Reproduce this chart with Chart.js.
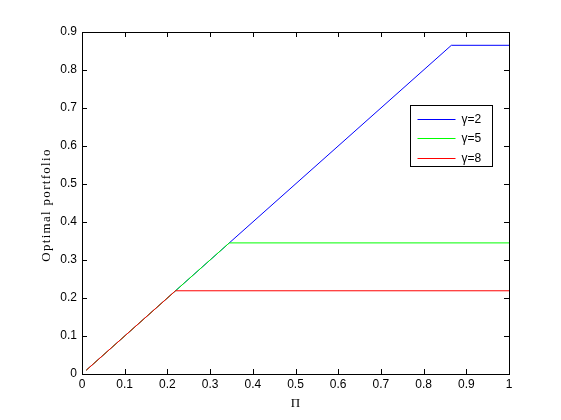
<!DOCTYPE html>
<html>
<head>
<meta charset="utf-8">
<script src="https://cdn.jsdelivr.net/npm/chart.js@4/dist/chart.umd.min.js"></script>
<style>
  html, body { margin: 0; padding: 0; background: #fff; }
  canvas { display: block; }
</style>
</head>
<body>
<canvas id="chart" width="561" height="420"></canvas>
<script>
// data
const seriesLabels = ['γ=2', 'γ=5', 'γ=8'];
const seriesColors = ['#0000ff', '#00ff00', '#ff0000'];
const gamma2X = [0.01, 0.865, 1];
const gamma2Y = [0.01, 0.865, 0.865];
const gamma5X = [0.01, 0.345, 1];
const gamma5Y = [0.01, 0.345, 0.345];
const gamma8X = [0.01, 0.219, 1];
const gamma8Y = [0.01, 0.219, 0.219];
const xTicks = [0, 0.1, 0.2, 0.3, 0.4, 0.5, 0.6, 0.7, 0.8, 0.9, 1];
const yTicks = [0, 0.1, 0.2, 0.3, 0.4, 0.5, 0.6, 0.7, 0.8, 0.9];
const yTitle = 'Optimal portfolio';

function toPoints(xs, ys) {
    return xs.map((x, i) => ({ x: x, y: ys[i] }));
}

const seriesData = [
    toPoints(gamma2X, gamma2Y),
    toPoints(gamma5X, gamma5Y),
    toPoints(gamma8X, gamma8Y)
];

// matlab style box, inward ticks, y label and legend
const matlabAxes = {
    id: 'matlabAxes',
    afterDraw(chart) {
        const ctx = chart.ctx;
        const a = chart.chartArea;
        const xs = chart.scales.x;
        const ys = chart.scales.y;
        const len = 5;
        ctx.save();
        ctx.strokeStyle = '#000';
        ctx.lineWidth = 1;
        ctx.beginPath();
        xTicks.forEach(v => {
            const px = Math.round(xs.getPixelForValue(v)) + 0.5;
            ctx.moveTo(px, a.bottom); ctx.lineTo(px, a.bottom - len);
            ctx.moveTo(px, a.top); ctx.lineTo(px, a.top + len);
        });
        yTicks.forEach(v => {
            const py = Math.round(ys.getPixelForValue(v)) + 0.5;
            ctx.moveTo(a.left, py); ctx.lineTo(a.left + len, py);
            ctx.moveTo(a.right, py); ctx.lineTo(a.right - len, py);
        });
        ctx.stroke();
        ctx.strokeRect(Math.round(a.left) + 0.5, Math.round(a.top) + 0.5,
            Math.round(a.right - a.left), Math.round(a.bottom - a.top));

        // y label, wide spaced like the matlab screen font
        ctx.save();
        ctx.translate(47, (a.top + a.bottom) / 2 + 2);
        ctx.rotate(-Math.PI / 2);
        ctx.font = '13px "Liberation Serif", "Times New Roman", serif';
        ctx.letterSpacing = '1.3px';
        ctx.textAlign = 'center';
        ctx.textBaseline = 'middle';
        ctx.fillStyle = '#000';
        ctx.fillText(yTitle, 0, 0);
        ctx.restore();

        // legend
        const bx = 410.5, by = 105.5, bw = 82, bh = 61;
        ctx.fillStyle = '#fff';
        ctx.fillRect(bx, by, bw, bh);
        ctx.strokeRect(bx, by, bw, bh);
        ctx.font = '12px "Liberation Sans", Arial, sans-serif';
        ctx.textBaseline = 'middle';
        ctx.textAlign = 'left';
        chart.data.datasets.forEach((ds, i) => {
            const ry = Math.round(by + 13 + i * 19.5) + 0.5;
            ctx.strokeStyle = ds.borderColor;
            ctx.beginPath();
            ctx.moveTo(bx + 7, ry);
            ctx.lineTo(bx + 45, ry);
            ctx.stroke();
            ctx.fillStyle = '#000';
            ctx.fillText(ds.label, bx + 51, ry);
        });
        ctx.restore();
    }
};

new Chart(document.getElementById('chart').getContext('2d'), {
    type: 'line',
    data: {
        datasets: seriesData.map((pts, i) => ({
            label: seriesLabels[i],
            data: pts,
            borderColor: seriesColors[i],
            backgroundColor: seriesColors[i],
            borderWidth: 1,
            pointRadius: 0,
            tension: 0,
            fill: false,
            order: seriesLabels.length - i
        }))
    },
    options: {
        responsive: false,
        animation: false,
        layout: { padding: { left: 0, right: 52, top: 32, bottom: 0 } },
        plugins: {
            legend: { display: false },
            tooltip: { enabled: false }
        },
        scales: {
            x: {
                type: 'linear',
                min: 0,
                max: 1,
                afterFit: s => { s.height = 46; },
                afterBuildTicks: s => { s.ticks = xTicks.map(v => ({ value: v })); },
                grid: { display: false, drawTicks: false },
                border: { display: false },
                ticks: {
                    color: '#000',
                    padding: 3,
                    maxRotation: 0,
                    font: { family: '"Liberation Sans", Arial, sans-serif', size: 12 },
                    callback: v => String(Number(v.toFixed(1)))
                },
                title: {
                    display: true,
                    text: 'Π',
                    color: '#000',
                    padding: { top: 0, bottom: 9 },
                    font: { family: '"Liberation Serif", "Times New Roman", serif', size: 13, lineHeight: 1.2 }
                }
            },
            y: {
                type: 'linear',
                min: 0,
                max: 0.9,
                afterFit: s => { s.width = 82; },
                afterBuildTicks: s => { s.ticks = yTicks.map(v => ({ value: v })); },
                grid: { display: false, drawTicks: false },
                border: { display: false },
                ticks: {
                    color: '#000',
                    padding: 5,
                    font: { family: '"Liberation Sans", Arial, sans-serif', size: 12 },
                    callback: v => String(Number(v.toFixed(1)))
                }
            }
        }
    },
    plugins: [matlabAxes]
});
</script>
</body>
</html>
